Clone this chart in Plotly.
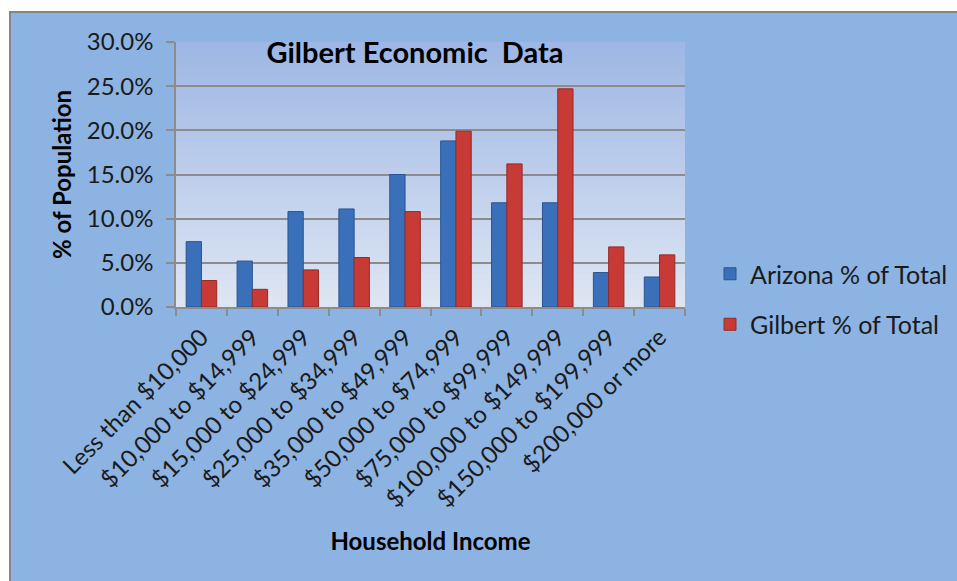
import plotly.graph_objects as go

categories = ["Less than $10,000", "$10,000 to $14,999", "$15,000 to $24,999",
              "$25,000 to $34,999", "$35,000 to $49,999", "$50,000 to $74,999",
              "$75,000 to $99,999", "$100,000 to $149,999", "$150,000 to $199,999",
              "$200,000 or more"]
arizona = [0.074, 0.052, 0.108, 0.111, 0.150, 0.188, 0.118, 0.118, 0.039, 0.034]
gilbert = [0.030, 0.020, 0.042, 0.056, 0.108, 0.199, 0.162, 0.247, 0.068, 0.059]

FONT = "Lato"
W, H = 957, 581
L, R, T, B = 176, 272, 42, 274
pw, ph = W - L - R, H - T - B

def px_x(px):
    return (px - L) / pw

def px_y(py):
    return (H - B - py) / ph

fig = go.Figure()
fig.add_trace(go.Bar(
    x=categories, y=arizona, name="Arizona % of Total", legendgroup="a",
    marker=dict(color="#3A70BA", line=dict(color="#2A548F", width=1)),
))
fig.add_trace(go.Bar(
    x=categories, y=gilbert, name="Gilbert % of Total", legendgroup="g",
    marker=dict(color="#C83A36", line=dict(color="#952A27", width=1)),
))

shapes = []
# outer chart area
shapes.append(dict(type="rect", xref="paper", yref="paper", layer="below",
                   x0=px_x(10), x1=px_x(980), y0=px_y(600), y1=px_y(12),
                   fillcolor="#8DB3E2", line=dict(color="#868686", width=2)))
# plot area vertical gradient
top = (157, 182, 228)
bot = (222, 230, 243)
n = 40
for i in range(n):
    t = (i + 0.5) / n
    c = tuple(round(top[k] + (bot[k] - top[k]) * t) for k in range(3))
    shapes.append(dict(type="rect", xref="x domain", yref="y domain", layer="below",
                       x0=0, x1=1, y0=max(0, 1 - (i + 2) / n), y1=1 - i / n,
                       fillcolor="rgb(%d,%d,%d)" % c, line=dict(width=0)))

fig.update_layout(
    width=W, height=H,
    margin=dict(l=L, r=R, t=T, b=B, autoexpand=False),
    paper_bgcolor="white",
    plot_bgcolor="rgba(0,0,0,0)",
    barmode="group", bargap=0.40, bargroupgap=0.0,
    shapes=shapes,
    font=dict(family=FONT, color="#1a1a1a"),
    title=dict(text="<b>Gilbert Economic  Data</b>", x=px_x(415), xref="paper",
               xanchor="center", y=px_y(53), yref="paper", yanchor="middle",
               font=dict(family=FONT, size=29, color="black")),
    legend=dict(x=px_x(710), y=px_y(251), xanchor="left", yanchor="top",
                xref="paper", yref="paper",
                font=dict(family=FONT, size=25, color="#1a1a1a"),
                bgcolor="rgba(0,0,0,0)", tracegroupgap=15, traceorder="grouped",
                itemwidth=30),
    yaxis=dict(range=[0, 0.30], dtick=0.05, tickformat=".1%",
               showgrid=True, gridcolor="#8C8C8C", gridwidth=1.5,
               showline=True, linecolor="#8C8C8C", linewidth=1.5,
               ticks="outside", ticklen=8, tickcolor="#8C8C8C", tickwidth=1.5,
               ticklabelstandoff=8,
               tickfont=dict(family=FONT, size=24, color="#1a1a1a"),
               title=dict(text="<b>% of Population</b>", standoff=8,
                          font=dict(family=FONT, size=24, color="black")),
               zeroline=False),
    xaxis=dict(type="category", tickangle=-45, tickson="boundaries",
               showline=True, linecolor="#8C8C8C", linewidth=1.5,
               ticks="outside", ticklen=7, tickcolor="#8C8C8C", tickwidth=1.5,
               ticklabelstandoff=5,
               tickfont=dict(family=FONT, size=24, color="#1a1a1a"),
               title=dict(text="<b>Household Income</b>", standoff=22,
                          font=dict(family=FONT, size=24, color="black"))),
)

fig.write_html("out.html")
